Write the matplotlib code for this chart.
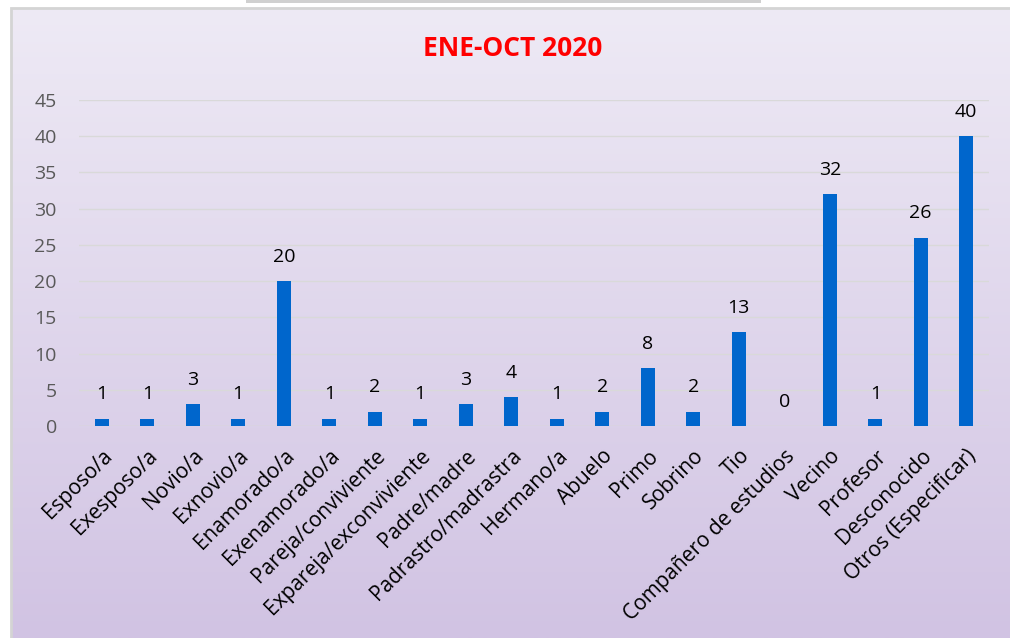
import numpy as np
import matplotlib.pyplot as plt
from matplotlib.patches import Rectangle

categories = ["Esposo/a", "Exesposo/a", "Novio/a", "Exnovio/a", "Enamorado/a",
              "Exenamorado/a", "Pareja/conviviente", "Expareja/exconviviente",
              "Padre/madre", "Padrastro/madrastra", "Hermano/a", "Abuelo",
              "Primo", "Sobrino", "Tio", "Compañero de estudios", "Vecino",
              "Profesor", "Desconocido", "Otros (Especificar)"]
values = [1, 1, 3, 1, 20, 1, 2, 1, 3, 4, 1, 2, 8, 2, 13, 0, 32, 1, 26, 40]
title = "ENE-OCT 2020"

plt.rcParams['font.family'] = ['Open Sans', 'DejaVu Sans']

W, H = 1010, 638
fig = plt.figure(figsize=(W / 100, H / 100), dpi=100)

# gradient background inside frame
bg = fig.add_axes([12 / W, 0, 1 - 12 / W, 1 - 8 / H])
grad = np.linspace(0, 1, 256).reshape(-1, 1)
top = np.array([0xEE, 0xEA, 0xF5]) / 255
bot = np.array([0xD1, 0xC3, 0xE3]) / 255
img = top + (bot - top) * grad[:, :, None]
bg.imshow(img, aspect='auto', extent=[0, 1, 0, 1], origin='upper')
bg.set_xlim(0, 1)
bg.set_ylim(0, 1)
bg.axis('off')
fig.patches.append(Rectangle((11 / W, -0.01), 1.1, 1 - 7.5 / H + 0.01, transform=fig.transFigure,
                             fill=False, edgecolor='#D4D4D4', linewidth=2, zorder=5))
fig.patches.append(Rectangle((246 / W, 1 - 3 / H), 515 / W, 3 / H, transform=fig.transFigure,
                             facecolor='#D0D0D0', edgecolor='none'))

# plot area: x from 79 to 989 px, y from 100 (45) to 426 (0)
ax = fig.add_axes([79 / W, (H - 426) / H, 910 / W, 326 / H])
ax.patch.set_alpha(0)
x = np.arange(len(categories))
ax.bar(x, values, width=0.31, color='#0066CC', zorder=3)
for xi, v in zip(x, values):
    ax.annotate(str(v), (xi, v), xytext=(0, 11), textcoords='offset points',
                ha='center', va='bottom', fontsize=14, color='black')

ax.set_xlim(-0.5, len(categories) - 0.5)
ax.set_ylim(0, 45)
ax.set_yticks(range(0, 46, 5))
ax.yaxis.grid(True, color='#D9D9D9', linewidth=1)
ax.set_axisbelow(True)
for s in ax.spines.values():
    s.set_visible(False)
ax.axhline(0, color='#D9D9D9', linewidth=1, zorder=2)
ax.tick_params(axis='y', length=0, labelsize=14, labelcolor='#595959', pad=16)
ax.tick_params(axis='x', length=0, labelsize=15, pad=14)
ax.set_xticks(x)
ax.set_xticklabels(categories, rotation=45, ha='right', rotation_mode='anchor')

fig.text(513 / W, 1 - 48 / H, title, ha='center', va='center', color='#FF0000',
         fontsize=19, fontweight='bold')

fig.savefig('out.png', dpi=100)
